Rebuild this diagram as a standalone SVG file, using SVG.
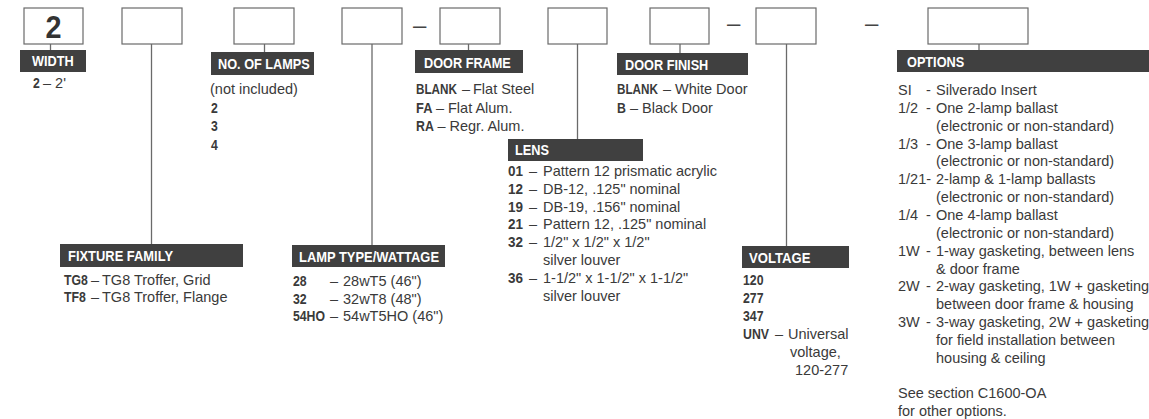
<svg xmlns="http://www.w3.org/2000/svg" width="1149" height="419" viewBox="0 0 1149 419">
<style>
.box{fill:#fff;stroke:#6a6a6a;stroke-width:1.2}
.lab{fill:#404040}
.lt{font-family:"Liberation Sans",Arial,sans-serif;font-weight:bold;font-size:15.5px;fill:#fff}
.t{font-family:"Liberation Sans",Arial,sans-serif;font-size:14.5px;fill:#3a3a3a}
.b{font-family:"Liberation Sans",Arial,sans-serif;font-weight:bold;font-size:15px;fill:#3a3a3a}
.big{font-family:"Liberation Sans",Arial,sans-serif;font-weight:bold;font-size:32px;fill:#333}
.dash{font-family:"Liberation Sans",Arial,sans-serif;font-size:24px;fill:#444}
.stem{stroke:#6a6a6a;stroke-width:1.3;fill:none}
</style>

<g id="connectors">
<line class="stem" x1="50.5" y1="44" x2="50.5" y2="50"/>
<line class="stem" x1="151.5" y1="44" x2="151.5" y2="244"/>
<line class="stem" x1="264.5" y1="44" x2="264.5" y2="52"/>
<line class="stem" x1="372" y1="44" x2="372" y2="245"/>
<line class="stem" x1="468.5" y1="44" x2="468.5" y2="50"/>
<line class="stem" x1="577.5" y1="44" x2="577.5" y2="139"/>
<line class="stem" x1="680" y1="44" x2="680" y2="53"/>
<line class="stem" x1="786.5" y1="44" x2="786.5" y2="246"/>
<line class="stem" x1="979" y1="44" x2="979" y2="50"/>
</g>

<g id="separators">
<text class="dash" x="413" y="33">–</text>
<text class="dash" x="727" y="31">–</text>
<text class="dash" x="865" y="31">–</text>
</g>

<g id="width">
<rect class="box" x="24" y="8" width="59" height="36"/>
<text class="big" x="45.5" y="38" textLength="16" lengthAdjust="spacingAndGlyphs">2</text>
<rect class="lab" x="20" y="50" width="66" height="22"/>
<text class="lt" x="32" y="66" textLength="41.7" lengthAdjust="spacingAndGlyphs">WIDTH</text>
<text class="b" x="33" y="88" textLength="6.8" lengthAdjust="spacingAndGlyphs">2</text>
<text class="t" x="43" y="88">– 2'</text>
</g>

<g id="fixture-family">
<rect class="box" x="122" y="8" width="60" height="36"/>
<rect class="lab" x="60" y="244" width="183" height="23"/>
<text class="lt" x="68" y="261" textLength="105" lengthAdjust="spacingAndGlyphs">FIXTURE FAMILY</text>
<text class="b" x="64" y="285" textLength="23.9" lengthAdjust="spacingAndGlyphs">TG8</text>
<text class="t" y="285"><tspan x="91">–</tspan><tspan x="102">TG8 Troffer, Grid</tspan></text>
<text class="b" x="64" y="302" textLength="21.9" lengthAdjust="spacingAndGlyphs">TF8</text>
<text class="t" y="302"><tspan x="91">–</tspan><tspan x="102">TG8 Troffer, Flange</tspan></text>
</g>

<g id="no-of-lamps">
<rect class="box" x="234" y="8" width="60" height="36"/>
<rect class="lab" x="211" y="52" width="103" height="23"/>
<text class="lt" x="218" y="69" textLength="91.8" lengthAdjust="spacingAndGlyphs">NO. OF LAMPS</text>
<text class="t" x="210" y="94">(not included)</text>
<text class="b" x="211" y="112.5" textLength="6.8" lengthAdjust="spacingAndGlyphs">2</text>
<text class="b" x="211" y="131" textLength="6.8" lengthAdjust="spacingAndGlyphs">3</text>
<text class="b" x="211" y="149.5" textLength="6.8" lengthAdjust="spacingAndGlyphs">4</text>
</g>

<g id="lamp-type">
<rect class="box" x="342" y="8" width="60" height="36"/>
<rect class="lab" x="292" y="245" width="153" height="22"/>
<text class="lt" x="299" y="262" textLength="140" lengthAdjust="spacingAndGlyphs">LAMP TYPE/WATTAGE</text>
<text class="b" x="293" y="286" textLength="13.7" lengthAdjust="spacingAndGlyphs">28</text>
<text class="t" y="286"><tspan x="330">–</tspan><tspan x="343">28wT5 (46")</tspan></text>
<text class="b" x="293" y="303.5" textLength="13.7" lengthAdjust="spacingAndGlyphs">32</text>
<text class="t" y="303.5"><tspan x="330">–</tspan><tspan x="343">32wT8 (48")</tspan></text>
<text class="b" x="293" y="321" textLength="32" lengthAdjust="spacingAndGlyphs">54HO</text>
<text class="t" y="321"><tspan x="330">–</tspan><tspan x="343">54wT5HO (46")</tspan></text>
</g>

<g id="door-frame">
<rect class="box" x="440" y="8" width="60" height="36"/>
<rect class="lab" x="415" y="50" width="108" height="23"/>
<text class="lt" x="424" y="68" textLength="86.8" lengthAdjust="spacingAndGlyphs">DOOR FRAME</text>
<text class="b" transform="translate(416 94) scale(0.78 1)">BLANK</text>
<text class="t" y="94"><tspan x="462">–</tspan><tspan x="473">Flat Steel</tspan></text>
<text class="b" x="416" y="112.5" textLength="16.4" lengthAdjust="spacingAndGlyphs">FA</text>
<text class="t" y="112.5"><tspan x="436">–</tspan><tspan x="448">Flat Alum.</tspan></text>
<text class="b" x="416" y="131" textLength="17.8" lengthAdjust="spacingAndGlyphs">RA</text>
<text class="t" y="131"><tspan x="437.5">–</tspan><tspan x="449.5">Regr. Alum.</tspan></text>
</g>

<g id="lens">
<rect class="box" x="548" y="8" width="59" height="36"/>
<rect class="lab" x="508" y="139" width="135" height="22"/>
<text class="lt" x="515" y="155" textLength="34" lengthAdjust="spacingAndGlyphs">LENS</text>
<text class="b" x="508" y="176" textLength="15" lengthAdjust="spacingAndGlyphs">01</text>
<text class="t" y="176"><tspan x="529">–</tspan><tspan x="543">Pattern 12 prismatic acrylic</tspan></text>
<text class="b" x="508" y="193.8" textLength="15" lengthAdjust="spacingAndGlyphs">12</text>
<text class="t" y="193.8"><tspan x="529">–</tspan><tspan x="543">DB-12, .125" nominal</tspan></text>
<text class="b" x="508" y="211.6" textLength="15" lengthAdjust="spacingAndGlyphs">19</text>
<text class="t" y="211.6"><tspan x="529">–</tspan><tspan x="543">DB-19, .156" nominal</tspan></text>
<text class="b" x="508" y="229.4" textLength="15" lengthAdjust="spacingAndGlyphs">21</text>
<text class="t" y="229.4"><tspan x="529">–</tspan><tspan x="543">Pattern 12, .125" nominal</tspan></text>
<text class="b" x="508" y="247.2" textLength="15" lengthAdjust="spacingAndGlyphs">32</text>
<text class="t" y="247.2"><tspan x="529">–</tspan><tspan x="543">1/2" x 1/2" x 1/2"</tspan></text>
<text class="t" x="543" y="265">silver louver</text>
<text class="b" x="508" y="282.8" textLength="15" lengthAdjust="spacingAndGlyphs">36</text>
<text class="t" y="282.8"><tspan x="529">–</tspan><tspan x="543">1-1/2" x 1-1/2" x 1-1/2"</tspan></text>
<text class="t" x="543" y="300.6">silver louver</text>
</g>

<g id="door-finish">
<rect class="box" x="650" y="8" width="59" height="36"/>
<rect class="lab" x="617" y="53" width="131" height="22"/>
<text class="lt" x="625" y="70" textLength="83.3" lengthAdjust="spacingAndGlyphs">DOOR FINISH</text>
<text class="b" transform="translate(617 94) scale(0.78 1)">BLANK</text>
<text class="t" y="94"><tspan x="663">–</tspan><tspan x="675">White Door</tspan></text>
<text class="b" x="617" y="112.5" textLength="8.9" lengthAdjust="spacingAndGlyphs">B</text>
<text class="t" y="112.5"><tspan x="630">–</tspan><tspan x="642">Black Door</tspan></text>
</g>

<g id="voltage">
<rect class="box" x="756" y="8" width="60" height="36"/>
<rect class="lab" x="742" y="246" width="107" height="22"/>
<text class="lt" x="749" y="263" textLength="61.4" lengthAdjust="spacingAndGlyphs">VOLTAGE</text>
<text class="b" x="743" y="285" textLength="20.5" lengthAdjust="spacingAndGlyphs">120</text>
<text class="b" x="743" y="303" textLength="20.5" lengthAdjust="spacingAndGlyphs">277</text>
<text class="b" x="743" y="321" textLength="20.5" lengthAdjust="spacingAndGlyphs">347</text>
<text class="b" x="743" y="339" textLength="26" lengthAdjust="spacingAndGlyphs">UNV</text>
<text class="t" y="339"><tspan x="775">–</tspan><tspan x="788">Universal</tspan></text>
<text class="t" x="790" y="357">voltage,</text>
<text class="t" x="795" y="375">120-277</text>
</g>

<g id="options">
<rect class="box" x="928" y="8" width="100" height="36"/>
<rect class="lab" x="897" y="50" width="252" height="22"/>
<text class="lt" x="907" y="67" textLength="57.2" lengthAdjust="spacingAndGlyphs">OPTIONS</text>
<text class="t" y="95"><tspan x="898">SI</tspan><tspan x="926">-</tspan><tspan x="936">Silverado Insert</tspan></text>
<text class="t" y="112.85"><tspan x="898">1/2</tspan><tspan x="926">-</tspan><tspan x="936">One 2-lamp ballast</tspan></text>
<text class="t" x="936" y="130.7">(electronic or non-standard)</text>
<text class="t" y="148.55"><tspan x="898">1/3</tspan><tspan x="926">-</tspan><tspan x="936">One 3-lamp ballast</tspan></text>
<text class="t" x="936" y="166.4">(electronic or non-standard)</text>
<text class="t" y="184.25"><tspan x="898">1/21-</tspan><tspan x="936">2-lamp &amp; 1-lamp ballasts</tspan></text>
<text class="t" x="936" y="202.1">(electronic or non-standard)</text>
<text class="t" y="219.95"><tspan x="898">1/4</tspan><tspan x="926">-</tspan><tspan x="936">One 4-lamp ballast</tspan></text>
<text class="t" x="936" y="237.8">(electronic or non-standard)</text>
<text class="t" y="255.65"><tspan x="898">1W</tspan><tspan x="926">-</tspan><tspan x="936">1-way gasketing, between lens</tspan></text>
<text class="t" x="936" y="273.5">&amp; door frame</text>
<text class="t" y="291.35"><tspan x="898">2W</tspan><tspan x="926">-</tspan><tspan x="936">2-way gasketing, 1W + gasketing</tspan></text>
<text class="t" x="936" y="309.2">between door frame &amp; housing</text>
<text class="t" y="327.05"><tspan x="898">3W</tspan><tspan x="926">-</tspan><tspan x="936">3-way gasketing, 2W + gasketing</tspan></text>
<text class="t" x="936" y="344.9">for field installation between</text>
<text class="t" x="936" y="362.75">housing &amp; ceiling</text>
<text class="t" x="898" y="398.45">See section C1600-OA</text>
<text class="t" x="898" y="416.3">for other options.</text>
</g>
</svg>
